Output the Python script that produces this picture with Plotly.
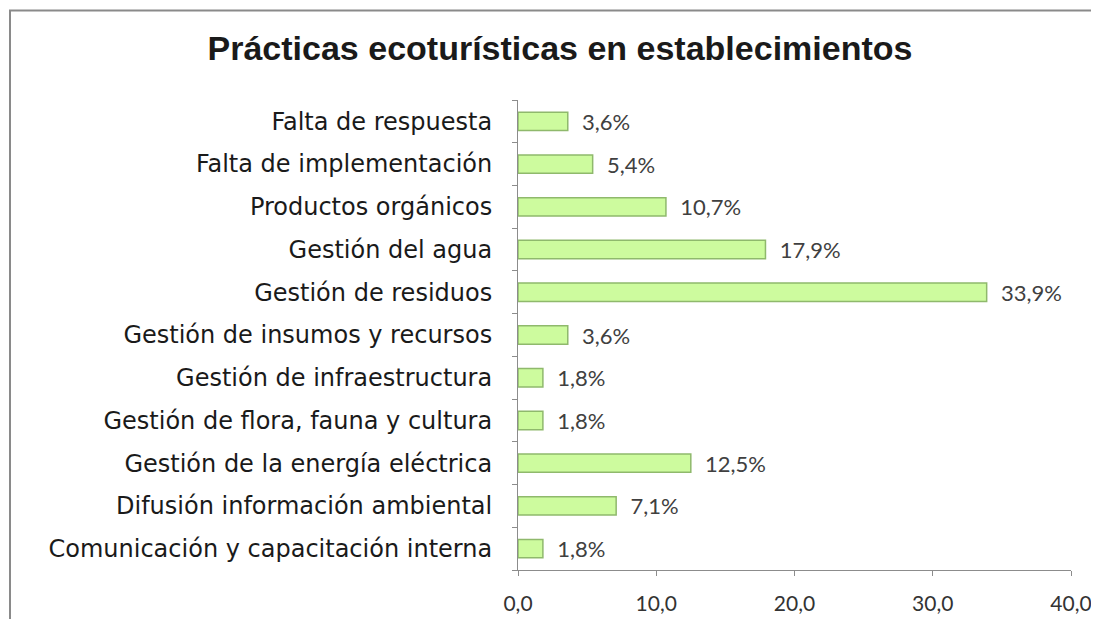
import plotly.graph_objects as go

categories = [
    "Comunicación y capacitación interna",
    "Difusión información ambiental",
    "Gestión de la energía eléctrica",
    "Gestión de flora, fauna y cultura",
    "Gestión de infraestructura",
    "Gestión de insumos y recursos",
    "Gestión de residuos",
    "Gestión del agua",
    "Productos orgánicos",
    "Falta de implementación",
    "Falta de respuesta",
]
values = [1.8, 7.1, 12.5, 1.8, 1.8, 3.6, 33.9, 17.9, 10.7, 5.4, 3.6]
x_ticks = [0, 10, 20, 30, 40]

W, H = 1099, 619
OFF = 8  # page body offset
L, R, T, B = 518 - OFF, 1099 - (1071 - OFF), 100 - OFF, 619 - (572 - OFF)
pw, ph = W - L - R, H - T - B

fig = go.Figure()
fig.add_trace(go.Bar(
    x=values, y=categories, orientation="h",
    width=0.43,
    marker=dict(color="#cdfb9e", line=dict(color="#8fb96c", width=1.5)),
    texttemplate="  %{x:.1f}%", textposition="outside", cliponaxis=False,
    constraintext="none",
    textfont=dict(family="Lato, Open Sans, sans-serif", size=22, color="#404040"),
    hoverinfo="skip",
))

fig.update_layout(
    width=W, height=H,
    margin=dict(l=L, r=R, t=T, b=B),
    paper_bgcolor="white", plot_bgcolor="white",
    separators=",.",
    showlegend=False,
    title=dict(
        text="<b>Prácticas ecoturísticas en establecimientos</b>",
        x=(560 - OFF) / W, xanchor="center", y=1 - (48 - OFF) / H, yanchor="middle",
        font=dict(family="Liberation Sans, Arial, sans-serif", size=34, color="#1a1a1a"),
    ),
    xaxis=dict(
        range=[0, 40], tickvals=x_ticks, tickformat=".1f",
        showgrid=False, zeroline=False,
        showline=True, linecolor="#8c8c8c", linewidth=1,
        ticks="outside", ticklen=5, tickcolor="#8c8c8c",
        ticklabelstandoff=10,
        tickfont=dict(family="Lato, Open Sans, sans-serif", size=21, color="#333333"),
    ),
    yaxis=dict(
        categoryorder="array", categoryarray=categories,
        showgrid=False, zeroline=False,
        showline=True, linecolor="#8c8c8c", linewidth=1,
        ticks="outside", ticklen=5, tickcolor="#8c8c8c", tickson="boundaries",
        ticklabelstandoff=20,
        tickfont=dict(family="DejaVu Sans, sans-serif", size=24, color="#1a1a1a"),
    ),
    shapes=[dict(
        type="rect", xref="paper", yref="paper",
        x0=(2 - L) / pw, x1=1.2, y0=-0.3, y1=1 + (T - 2) / ph,
        line=dict(color="#8a8a8a", width=2), fillcolor="rgba(0,0,0,0)", layer="below",
    )],
)

fig.write_html("out.html")
